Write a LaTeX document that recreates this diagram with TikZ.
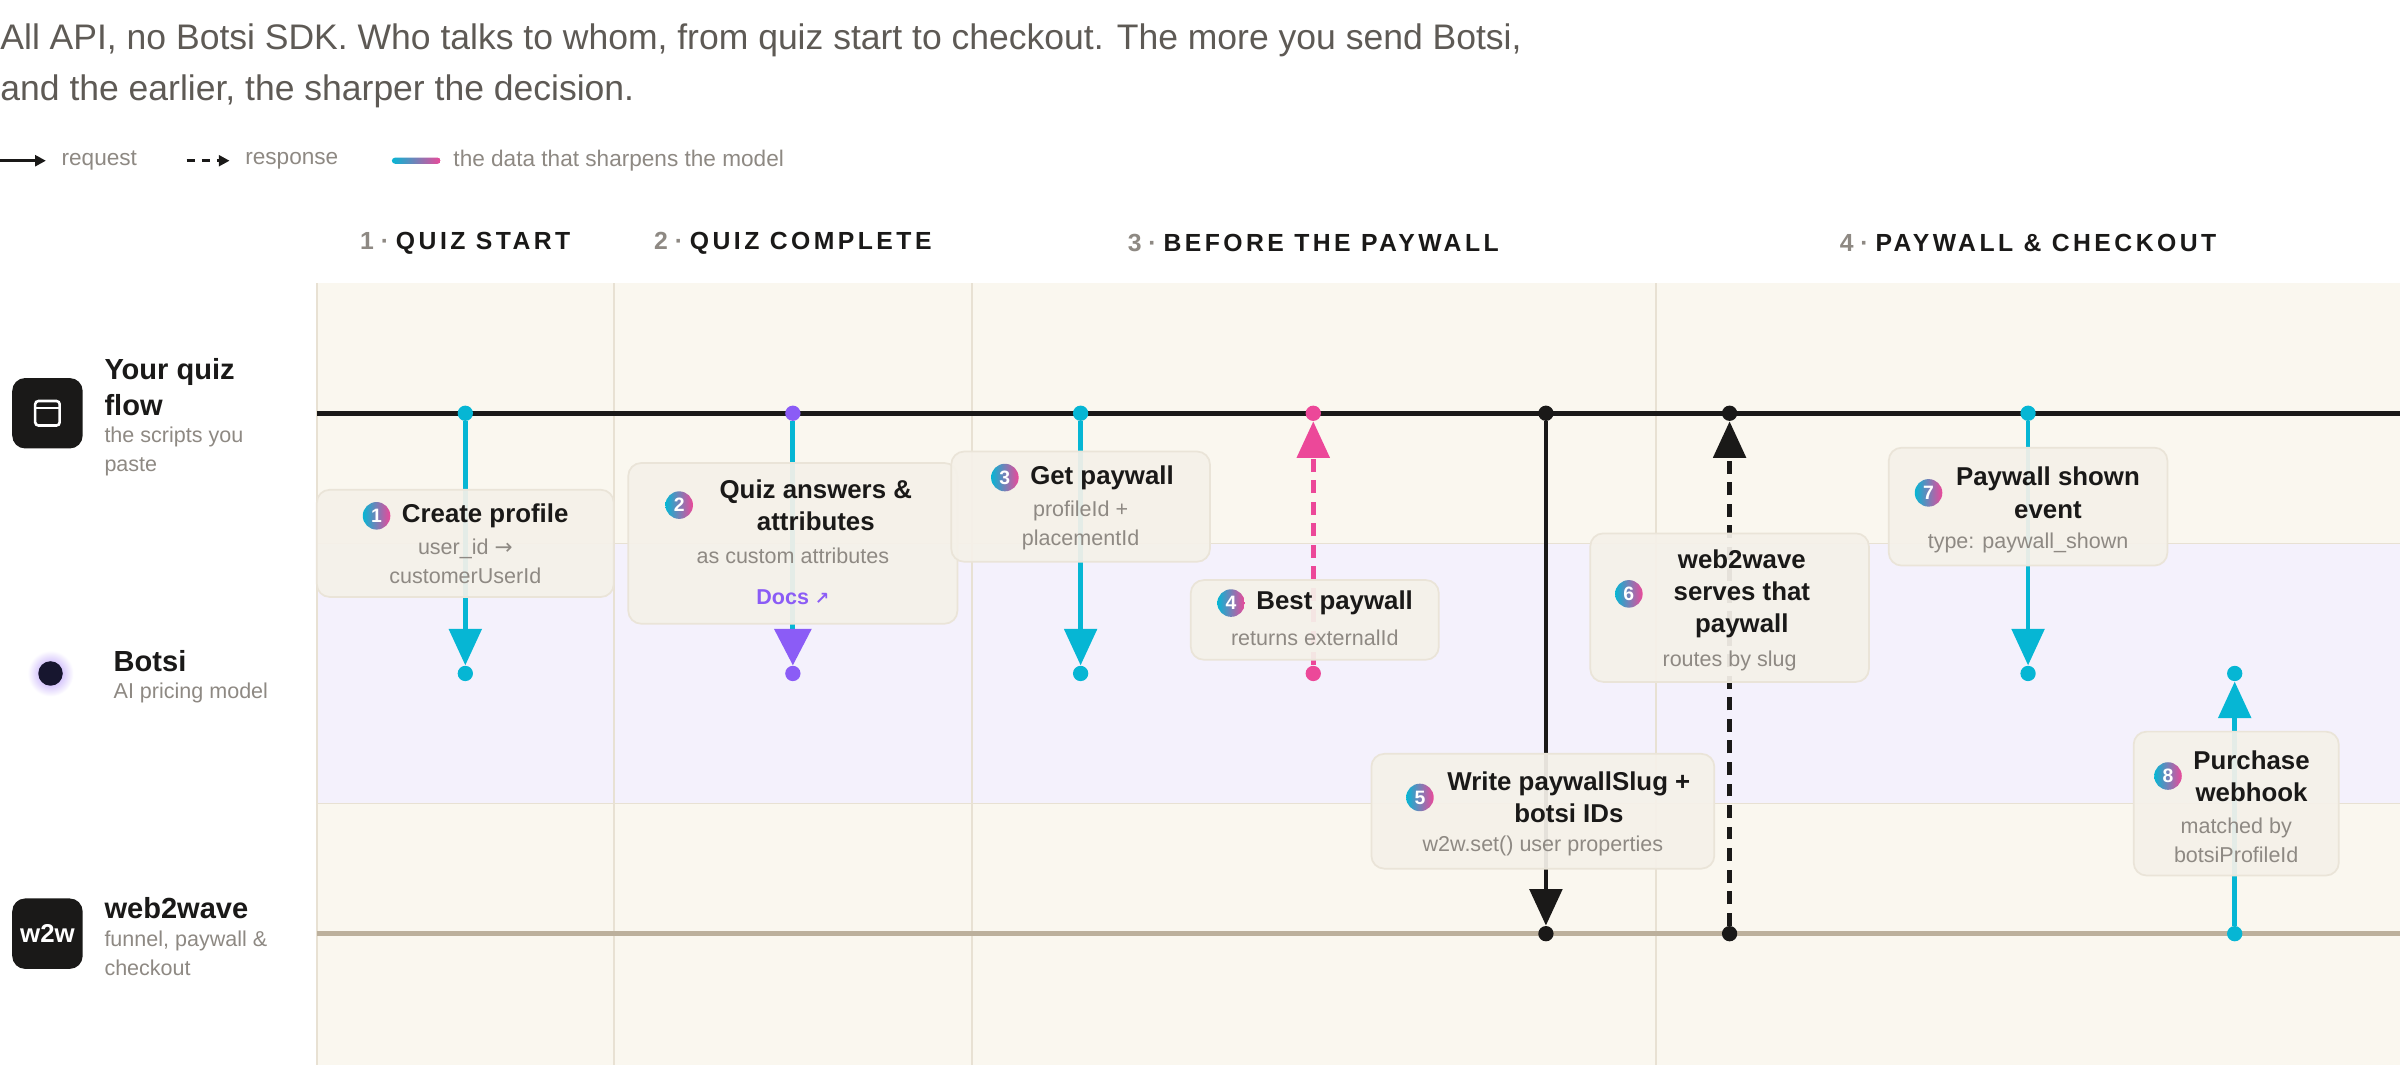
\documentclass[tikz,border=0pt]{standalone}
\usepackage{fontspec}
\setmainfont{Liberation Sans}
\newfontfamily\symf{DejaVu Sans}
\usetikzlibrary{arrows.meta,positioning}
\definecolor{ink}{HTML}{1A1918}
\definecolor{cyanA}{HTML}{06B6D4}
\definecolor{purp}{HTML}{8B5CF6}
\definecolor{pinkA}{HTML}{EC4899}
\definecolor{tan}{HTML}{BCB09C}
\definecolor{cream}{HTML}{FAF7EF}
\definecolor{band}{HTML}{F4F1FC}
\definecolor{sep}{HTML}{E8E1D3}
\definecolor{boxfill}{HTML}{F5F1E9}
\definecolor{boxdraw}{HTML}{EAE4D8}
\definecolor{mute}{HTML}{8E8983}
\definecolor{lead}{HTML}{5E5A55}
\newcommand{\ttlfont}{\fontsize{12}{15}\selectfont\bfseries}
\newcommand{\subfont}{\fontsize{10}{13.5}\selectfont}
\newcommand{\hdr}[2]{{\color{mute}#1 \textperiodcentered\ }{\addfontfeatures{LetterSpace=14}#2}}

\begin{document}
\begin{tikzpicture}[x=0.025cm,y=-0.025cm,
    box/.style={draw=boxdraw, fill=boxfill, fill opacity=0.93, rounded corners=6pt, line width=0.8pt},
    ttl/.style={text=ink, align=center, inner sep=0pt, font=\ttlfont},
    sub/.style={text=mute, align=center, inner sep=0pt, font=\subfont},
    badge/.style={circle, inner sep=0pt, minimum size=0.45cm, left color=cyanA, right color=pinkA,
      text=white, font=\fontsize{9}{9}\selectfont\bfseries},
    dot/.style={circle, fill=#1, inner sep=0pt, minimum size=0.25cm},
    msg/.style={line width=2.2pt, -{Triangle[width=15pt,length=17pt]}},
    lane/.style={anchor=west, text=ink, align=left, inner sep=0pt, font=\fontsize{13.5}{17}\selectfont\bfseries},
    lanesub/.style={anchor=west, text=mute, align=left, inner sep=0pt, font=\fontsize{10}{13.5}\selectfont},
    head/.style={text=ink, inner sep=0pt, font=\fontsize{11.5}{14}\selectfont\bfseries}]
\useasboundingbox (0,0) rectangle (1568,696);

%% Background
\fill[white] (0,0) rectangle (1568,696);
\fill[cream] (207,185) rectangle (1568,696);
\fill[band] (207,355) rectangle (1568,525);
\draw[sep, line width=0.8pt] (207,355) -- (1568,355) (207,525) -- (1568,525);
\foreach \sx in {207,401,635,1082}
  \draw[sep, line width=1pt] (\sx,185) -- (\sx,696);

%% Lead text and legend
\node[anchor=west, text=lead, inner sep=0pt, align=left, font=\fontsize{16.5}{23.5}\selectfont] (lead) at (0,43)
  {All API, no Botsi SDK. Who talks to whom, from quiz start to checkout. The more you send Botsi,\\and the earlier, the sharper the decision.};
\coordinate (lgA) at (0,105); \coordinate (lgB) at (30,105);
\coordinate (lgC) at (122,105); \coordinate (lgD) at (150,105);
\draw[ink, line width=1.4pt, -{Triangle[width=5pt,length=5pt]}] (lgA) -- (lgB);
\draw[ink, line width=1.4pt, dash pattern=on 4pt off 3pt, -{Triangle[width=5pt,length=5pt]}] (lgC) -- (lgD);
\shade[left color=cyanA, right color=pinkA, rounded corners=1.5pt] (256,103) rectangle (288,107);
\node[anchor=west, text=mute, inner sep=0pt, font=\fontsize{10.5}{13}\selectfont] (lreq) at (40,105) {request};
\node[anchor=west, text=mute, inner sep=0pt, font=\fontsize{10.5}{13}\selectfont] (lres) at (160,105) {response};
\node[anchor=west, text=mute, inner sep=0pt, font=\fontsize{10.5}{13}\selectfont] (ldat) at (296,105) {the data that sharpens the model};

%% Column heads
\node[head] (h1) at (304,159) {\hdr{1}{QUIZ START}};
\node[head] (h2) at (518,159) {\hdr{2}{QUIZ COMPLETE}};
\node[head] (h3) at (858,159) {\hdr{3}{BEFORE THE PAYWALL}};
\node[head] (h4) at (1325,159) {\hdr{4}{PAYWALL \& CHECKOUT}};

%% Lanes
\node[fill=ink, rounded corners=6pt, minimum size=1.15cm, inner sep=0pt] (iq) at (31,270) {};
\draw[white, line width=1.2pt, rounded corners=1.5pt] (23,262) rectangle (39,278);
\draw[white, line width=1.2pt] (23,266.5) -- (39,266.5);
\node[lane] (lq) at (68,253) {Your quiz\\flow};
\node[lanesub] (lqs) at (68,295) {the scripts you\\paste};
\shade[inner color=purp!70, outer color=white] (33,440) circle (15);
\node[dot=ink!90!blue, minimum size=0.4cm] (ib) at (33,440) {};
\node[lane] (lb) at (74,432) {Botsi};
\node[lanesub] (lbs) at (74,453) {AI pricing model};
\node[fill=ink, rounded corners=6pt, minimum size=1.15cm, inner sep=0pt, text=white,
  font=\fontsize{12}{14}\selectfont\bfseries] (iw) at (31,610) {w2w};
\node[lane] (lw) at (68,593) {web2wave};
\node[lanesub] (lws) at (68,623) {funnel, paywall \&\\checkout};

%% Lifelines
\coordinate (qL) at (207,270); \coordinate (qR) at (1568,270);
\coordinate (wL) at (207,610); \coordinate (wR) at (1568,610);
\draw[ink, line width=2.4pt] (qL) -- (qR);
\draw[tan, line width=2.4pt] (wL) -- (wR);

%% Messages
\node[dot=cyanA] (q1) at (304,270) {}; \node[dot=cyanA] (b1) at (304,440) {};
\node[dot=purp] (q2) at (518,270) {}; \node[dot=purp] (b2) at (518,440) {};
\node[dot=cyanA] (q3) at (706,270) {}; \node[dot=cyanA] (b3) at (706,440) {};
\node[dot=pinkA] (q4) at (858,270) {}; \node[dot=pinkA] (b4) at (858,440) {};
\node[dot=ink] (q5) at (1010,270) {}; \node[dot=ink] (w5) at (1010,610) {};
\node[dot=ink] (q6) at (1130,270) {}; \node[dot=ink] (w6) at (1130,610) {};
\node[dot=cyanA] (q7) at (1325,270) {}; \node[dot=cyanA] (b7) at (1325,440) {};
\node[dot=cyanA] (b8) at (1460,440) {}; \node[dot=cyanA] (w8) at (1460,610) {};
\draw[msg, cyanA] (q1) -- (b1);
\draw[msg, cyanA, -{Triangle[width=17pt,length=17pt,fill=purp,color=purp]}] (q2) -- (b2);
\draw[msg, cyanA] (q3) -- (b3);
\draw[msg, pinkA, dash pattern=on 6pt off 4pt] (b4) -- (q4);
\draw[msg, ink] (q5) -- (w5);
\draw[msg, ink, dash pattern=on 6pt off 4pt] (w6) -- (q6);
\draw[msg, cyanA] (q7) -- (b7);
\draw[msg, cyanA] (w8) -- (b8);

%% Step cards
\node[box, minimum width=4.85cm, minimum height=1.75cm] (s1) at (304,355) {};
\node[ttl] (t1) at (317,337) {Create profile};
\node[badge, left=5pt of t1] (n1) {1};
\node[sub] (u1) at (304,367) {user\_id {\symf→}\\customerUserId};

\node[box, minimum width=5.375cm, minimum height=2.625cm] (s2) at (518,355) {};
\node[ttl] (t2) at (533,330) {Quiz answers \&\\attributes};
\node[badge, left=12pt of t2] (n2) {2};
\node[sub] (u2) at (518,363) {as custom attributes};
\node[text=purp, inner sep=0pt, font=\fontsize{10}{12}\selectfont\bfseries] (d2) at (518,390) {Docs {\symf\fontsize{8}{10}\selectfont↗}};

\node[box, minimum width=4.225cm, minimum height=1.8cm] (s3) at (706,331) {};
\node[ttl] (t3) at (720,312) {Get paywall};
\node[badge, left=5pt of t3] (n3) {3};
\node[sub] (u3) at (706,343) {profileId +\\placementId};

\node[box, minimum width=4.05cm, minimum height=1.3cm] (s4) at (859,405) {};
\node[ttl] (t4) at (872,394) {Best paywall};
\node[badge, left=5pt of t4] (n4) {4};
\node[sub] (u4) at (859,417) {returns externalId};

\node[box, minimum width=5.6cm, minimum height=1.875cm] (s5) at (1008,530) {};
\node[ttl] (t5) at (1025,521) {Write paywallSlug +\\botsi IDs};
\node[badge, left=6pt of t5] (n5) {5};
\node[sub] (u5) at (1008,553) {w2w.set() user properties};

\node[box, minimum width=4.55cm, minimum height=2.425cm] (s6) at (1130,397) {};
\node[ttl] (t6) at (1138,388) {web2wave\\serves that\\paywall};
\node[badge, left=14pt of t6] (n6) {6};
\node[sub] (u6) at (1130,432) {routes by slug};

\node[box, minimum width=4.55cm, minimum height=1.925cm] (s7) at (1325,331) {};
\node[ttl] (t7) at (1338,322) {Paywall shown\\event};
\node[badge, left=6pt of t7] (n7) {7};
\node[sub] (u7) at (1325,355) {type: paywall\_shown};

\node[box, minimum width=3.35cm, minimum height=2.35cm] (s8) at (1461,525) {};
\node[ttl] (t8) at (1471,507) {Purchase\\webhook};
\node[badge, left=5pt of t8] (n8) {8};
\node[sub] (u8) at (1461,549) {matched by\\botsiProfileId};

\end{tikzpicture}
\end{document}
